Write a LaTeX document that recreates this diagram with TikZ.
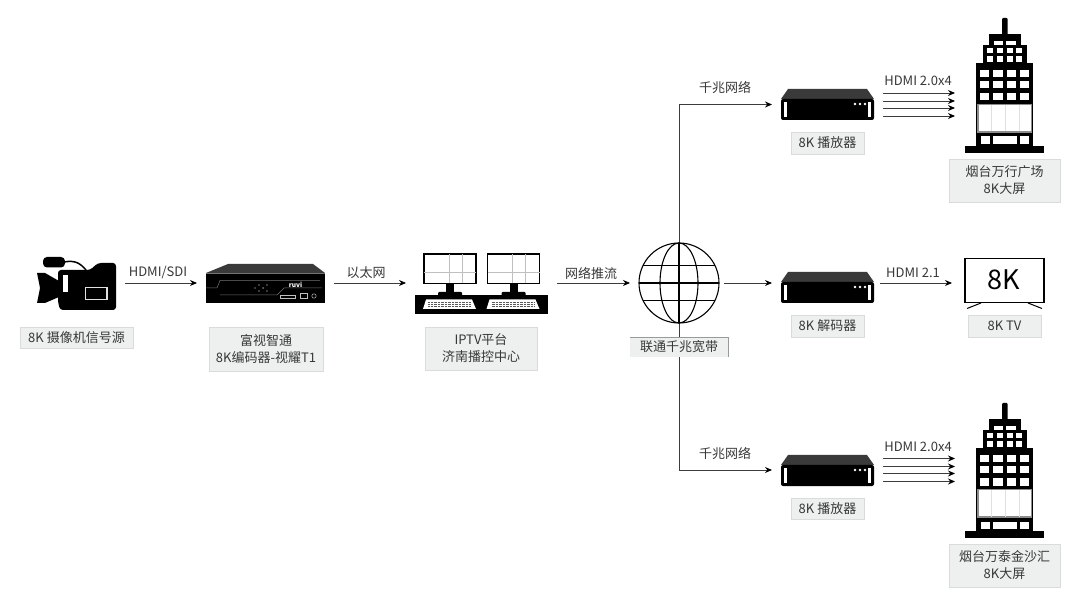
\documentclass[tikz,border=0pt]{standalone}
\usepackage{fontspec}
\setmainfont{Noto Sans CJK SC}
\usetikzlibrary{arrows.meta,calc}
\definecolor{boxgray}{HTML}{EEEFEF}
\definecolor{boxedge}{HTML}{DADCDC}
\definecolor{linegray}{HTML}{3C3C3C}
\definecolor{topgray}{HTML}{3A3A3A}
\tikzset{
  txt/.style={font=\fontsize{13}{17}\selectfont,text=black!78,align=center,inner sep=0pt,outer sep=0pt},
  capbox/.style={txt,fill=boxgray,draw=boxedge,line width=.5pt},
  iconbox/.style={inner sep=0pt,outer sep=0pt},
  conn/.style={draw=linegray,line width=.9pt,-{Stealth[length=7pt,width=6pt,color=black]}},
  wht/.style={fill=white,draw=none},
  blk/.style={fill=black,draw=none}
}
\newcommand{\PlayerIcon}[2]{%
  \begin{scope}[shift={(#1,#2)}]
    \fill[topgray] (7,0)--(86,0)--(93,10)--(0,10)--cycle;
    \fill[black,rounded corners=2pt] (0,10) rectangle (93,31);
    \fill[wht] (3,13) rectangle (6,28);
    \fill[wht] (87,13) rectangle (90,28);
    \fill[wht] (74,15) circle (1.3) (79,15) circle (1.3) (84,15) circle (1.3);
  \end{scope}}
\newcommand{\BuildingIcon}[2]{%
  \begin{scope}[shift={(#1,#2)}]
    \fill[blk] (965,146) rectangle (1044,153);
    \fill[blk] (976,63) rectangle (1033,146);
    \fill[blk] (983,45) rectangle (1027,63);
    \fill[blk] (989,34) rectangle (1021,45);
    \fill[blk,rounded corners=1pt] (1002,18) rectangle (1007.5,36);
    \foreach \y in {70,81.5,93.5}{
      \fill[wht] (980,\y) rectangle ++(9,7);
      \fill[wht] (993,\y) rectangle ++(9.5,7);
      \fill[wht] (1006.5,\y) rectangle ++(9,7);
      \fill[wht] (1019.5,\y) rectangle ++(9,7);
    }
    \foreach \y in {48,56.5}{
      \fill[wht] (987,\y) rectangle ++(6,5.5);
      \fill[wht] (997,\y) rectangle ++(6,5.5);
      \fill[wht] (1007,\y) rectangle ++(6,5.5);
      \fill[wht] (1016,\y) rectangle ++(6,5.5);
    }
    \fill[wht] (993.5,41.5) rectangle (1003,45);
    \fill[wht] (1006,41.5) rectangle (1015.5,45);
    \fill[white,draw=black!45,line width=1.2pt] (978,104.5) rectangle (1031.5,132);
    \draw[black!12,line width=.4pt] (991,105) -- (991,131.5) (1005,105) -- (1005,131.5) (1019,105) -- (1019,131.5);
    \fill[wht] (981,136.5) rectangle (990,144);
    \fill[wht] (993,136.5) rectangle (1017,144);
    \fill[wht] (1020,136.5) rectangle (1029,144);
  \end{scope}}
\newcommand{\MonitorIcon}[1]{%
  \begin{scope}[shift={(#1,0)}]
    \draw[black,line width=1.6pt,fill=white] (424,254) rectangle (476,283.5);
    \draw[black!25,line width=.5pt] (449,254) -- (449,283) (462,254) -- (462,283) (424,272) -- (476,272);
    \fill[blk] (446,284) rectangle (454,292);
    \fill[blk,rounded corners=1pt] (438,292) rectangle (462,296);
    \fill[white] (426,299.5)--(472,299.5)--(476,309)--(423,309)--cycle;
    \foreach \y in {302,304.5,306.5}
      \draw[black!65,line width=.7pt,dash pattern=on .9pt off .5pt] (428,\y) -- (471,\y);
  \end{scope}}
\begin{document}
\begin{tikzpicture}[x=1pt,y=-1pt]
\useasboundingbox (0,0) rectangle (1080,612);
\fill[white] (0,0) rectangle (1080,612);

% anchor nodes for icons
\node[iconbox,minimum width=79pt,minimum height=52pt] (cam) at (76.5,283) {};
\node[iconbox,minimum width=119pt,minimum height=38pt] (enc) at (265.5,283) {};
\node[iconbox,minimum width=133pt,minimum height=61pt] (iptv) at (481.5,283) {};
\node[iconbox,minimum width=80pt,minimum height=80pt] (globe) at (679,283) {};
\node[iconbox,minimum width=93pt,minimum height=31pt] (pla) at (827.5,104.5) {};
\node[iconbox,minimum width=93pt,minimum height=30pt] (dec) at (827.5,283) {};
\node[iconbox,minimum width=93pt,minimum height=30pt] (plb) at (827.5,470) {};
\node[iconbox,minimum width=79pt,minimum height=135pt] (blda) at (1004.5,85.5) {};
\node[iconbox,minimum width=79pt,minimum height=45pt] (tv) at (1004.5,280.5) {};
\node[iconbox,minimum width=79pt,minimum height=135pt] (bldb) at (1004.5,470.5) {};

% connectors
\draw[conn,shorten <=9pt,shorten >=9pt] (cam.east) -- (enc.west);
\draw[conn,shorten <=9pt,shorten >=9pt] (enc.east) -- (iptv.west);
\draw[conn,shorten <=9pt,shorten >=9pt] (iptv.east) -- (globe.west);
\draw[conn,shorten <=5pt,shorten >=9pt] (globe.east) -- (dec.west);
\draw[conn,shorten >=9pt] (globe.north) |- (pla.west);
\draw[conn,shorten >=9pt] (globe.south) |- (plb.west);
\draw[conn,shorten <=6pt,shorten >=13pt] (dec.east) -- (tv.west |- dec.east);
\foreach \d in {11.5,3.5,-3.5,-11.5}{
  \draw[conn,shorten <=9pt,shorten >=10pt] ([yshift=\d pt]pla.east) -- ([yshift=\d pt]pla.east -| blda.west);
}
\foreach \d in {11.5,3.5,-3.5,-11.5}{
  \draw[conn,shorten <=9pt,shorten >=10pt] ([yshift=\d pt]plb.east) -- ([yshift=\d pt]plb.east -| bldb.west);
}

% connector labels
\node[txt] (l1) at (158,273) {HDMI/SDI};
\node[txt] (l2) at (366,273) {以太网};
\node[txt] (l3) at (591,273) {网络推流};
\node[txt] (l4) at (725,88) {千兆网络};
\node[txt] (l5) at (725,454) {千兆网络};
\node[txt] (l6) at (918,81) {HDMI 2.0x4};
\node[txt] (l7) at (913,272.5) {HDMI 2.1};
\node[txt] (l8) at (918,447) {HDMI 2.0x4};

% camera
\fill[blk,rounded corners=3pt] (58,270) -- (90,270) -- (98,263) -- (116,263) -- (116,310) -- (60,310) -- (58,302) -- cycle;
\fill[blk] (37,273) -- (45,273) -- (59,281) -- (59,297) -- (45,303) -- (37,303) -- (40,288) -- cycle;
\fill[blk,rounded corners=4pt] (43,257) rectangle (65,267.5);
\draw[black,line width=1.5pt] (64,262) .. controls (75,260) and (80,263) .. (86,270);
\fill[wht] (63,275) rectangle (68,292);
\draw[white!88!black,line width=1.2pt] (85.5,287.5) rectangle (107,299.5);

% encoder
\fill[topgray] (228,264) -- (313,264) -- (325,273) -- (206,273) -- cycle;
\fill[blk] (206,273) rectangle (325,303);
\draw[black!55,line width=.6pt] (206,273.7) -- (325,273.7);
\draw[black!55,line width=.5pt] (206,288) -- (217,288) -- (220,280.5) -- (320,280.5);
\draw[black!55,line width=.5pt] (220,295) -- (277,295) -- (284,288) -- (322,288);
\fill[black!55] (263,288) circle (1) (267,285) circle (.8) (267,291) circle (.8) (259,285) circle (.8) (259,291) circle (.8) (255,288) circle (.8);
\node[font=\fontsize{6.5}{7}\selectfont\bfseries,text=white,inner sep=0pt] (logo) at (295.5,285) {ruvi};
\draw[black!25,line width=.5pt] (280,295.5) rectangle (295,298);
\draw[black!25,line width=.5pt] (300,293.5) rectangle (307,298);
\draw[black!25,line width=.5pt] (314,296) circle (2.2);

% IPTV workstation
\fill[blk] (415,295) rectangle (548,314);
\MonitorIcon{0}
\MonitorIcon{63.5}

% globe
\draw[black,line width=1.1pt] (679,283) circle (40);
\draw[black,line width=1.1pt] (679,283) ellipse (19 and 40);
\draw[black,line width=1.1pt] (639,283) -- (719,283);
\draw[black,line width=1.1pt] (643,265.5) -- (715,265.5);
\draw[black,line width=1.1pt] (643,300.5) -- (715,300.5);
\draw[black,line width=1.1pt] (679,243) -- (679,323);

% players
\PlayerIcon{781}{89}
\PlayerIcon{781}{272}
\PlayerIcon{781}{455}

% buildings
\BuildingIcon{0}{0}
\BuildingIcon{0}{385}

% TV
\draw[black,line width=1.1pt,fill=white] (965,258.5) rectangle (1044,302.5);
\draw[black,line width=1.8pt] (965,302.5) -- (1044,302.5);
\draw[black,line width=1pt] (981,303) -- (967,308.5) (1028,303) -- (1042,308.5);
\node[font=\fontsize{27}{30}\selectfont,text=black,inner sep=0pt] (tvtext) at (1004,280) {8K};

% captions
\node[capbox,minimum width=113pt,minimum height=21pt] (c1) at (76.5,337.5) {8K 摄像机信号源};
\node[capbox,minimum width=114pt,minimum height=44pt] (c2) at (266,349) {富视智通\\8K编码器-视耀T1};
\node[capbox,minimum width=112pt,minimum height=43pt] (c3) at (481,348.5) {IPTV平台\\济南播控中心};
\node[capbox,draw=none,minimum width=98pt,minimum height=20pt] (c4) at (679,347) {联通千兆宽带};
\draw[black!40,line width=.6pt] (c4.north west) -- (c4.north east) -- (c4.south east);
\node[capbox,minimum width=73pt,minimum height=22pt] (c5) at (827.5,143) {8K 播放器};
\node[capbox,minimum width=73pt,minimum height=22pt] (c6) at (827.5,326) {8K 解码器};
\node[capbox,minimum width=73pt,minimum height=21pt] (c7) at (827.5,508.5) {8K 播放器};
\node[capbox,minimum width=73pt,minimum height=22pt] (c8) at (1004.5,326) {8K TV};
\node[capbox,minimum width=111pt,minimum height=43pt] (c9) at (1004.5,180.5) {烟台万行广场\\8K大屏};
\node[capbox,minimum width=111pt,minimum height=43pt] (c10) at (1004.5,565.5) {烟台万泰金沙汇\\8K大屏};
\end{tikzpicture}
\end{document}
